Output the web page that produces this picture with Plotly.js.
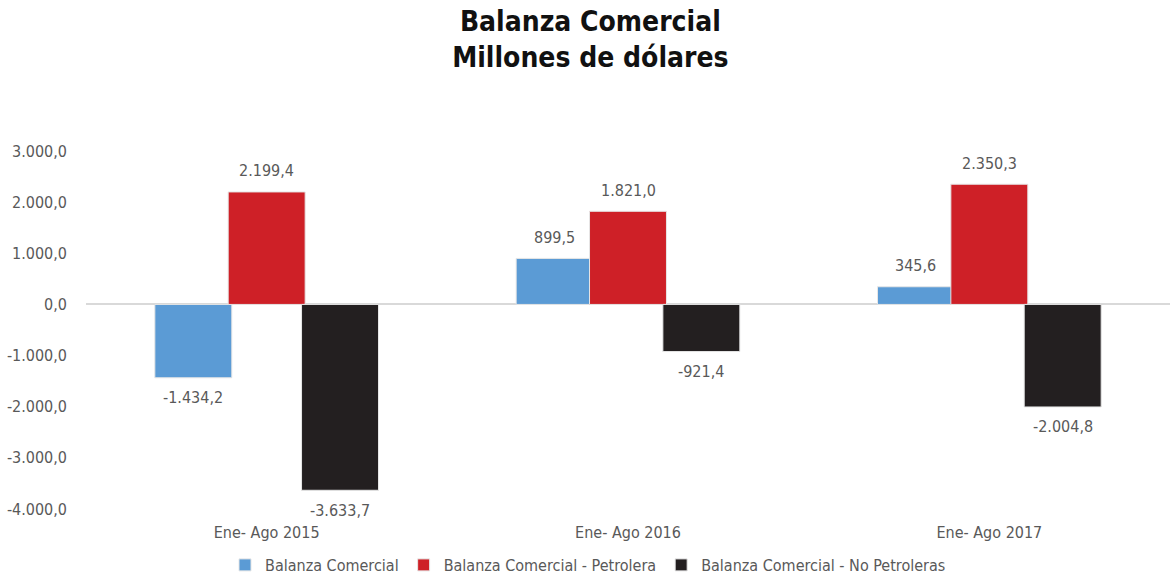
<!DOCTYPE html>
<html><head><meta charset="utf-8">
<script src="https://cdn.plot.ly/plotly-3.0.1.min.js"></script>
<style>body{margin:0;background:#fff}#c{width:1176px;height:582px}</style>
</head><body><div id="c"></div>
<script>
const categories = ["Ene- Ago 2015", "Ene- Ago 2016", "Ene- Ago 2017"];
const seriesNames = ["Balanza Comercial", "Balanza Comercial - Petrolera", "Balanza Comercial - No Petroleras"];
const balanza = [-1434.2, 899.5, 345.6];
const petrolera = [2199.4, 1821.0, 2350.3];
const noPetrolera = [-3633.7, -921.4, -2004.8];
const tickVals = [-4000, -3000, -2000, -1000, 0, 1000, 2000, 3000];
const tickText = ["-4.000,0", "-3.000,0", "-2.000,0", "-1.000,0", "0,0", "1.000,0", "2.000,0", "3.000,0"];

const FONT = "'Liberation Sans Narrow', 'DejaVu Sans Condensed', Arial, sans-serif";
const colors = ["#5B9BD5", "#CE2027", "#231F20"];
const BAR_W = 0.213;   // bar width in category units
const STEP = 0.203;    // distance between neighbouring bars (slight overlap, as in the original)
function fmt(v){
  const neg = v < 0; const a = Math.abs(v).toFixed(1);
  let [i, d] = a.split(".");
  i = i.replace(/\B(?=(\d{3})+(?!\d))/g, ".");
  return (neg ? "-" : "") + i + "," + d;
}
const allSeries = [balanza, petrolera, noPetrolera];
const n = allSeries.length;
const centerOf = k => (k - (n - 1) / 2) * STEP;
const data = allSeries.map((vals, k) => ({
  type: "bar", x: categories, y: vals, name: seriesNames[k],
  width: BAR_W, offset: centerOf(k) - BAR_W / 2,
  marker: {color: colors[k], line: {color: "#e6e6e6", width: 1}},
  hoverinfo: "none"
}));
const annotations = [];
allSeries.forEach((vals, k) => {
  vals.forEach((v, i) => {
    annotations.push({
      xref: "x", yref: "y", x: i + centerOf(k), y: v,
      text: fmt(v), showarrow: false, xanchor: "center", yanchor: "middle",
      yshift: v >= 0 ? 21 : -20,
      font: {family: FONT, size: 16, color: "#595959"}
    });
  });
});
const layout = {
  width: 1176, height: 582,
  margin: {l: 86, r: 6, t: 151, b: 73},
  paper_bgcolor: "#fff", plot_bgcolor: "#fff",
  font: {family: FONT, size: 16, color: "#595959"},
  barmode: "group",
  title: {text: "<b>Balanza Comercial<br>Millones de dólares</b>", x: 0.502, xanchor: "center",
          yref: "container", y: 0.947, yanchor: "middle",
          font: {family: FONT, size: 28, color: "#111"}},
  showlegend: true,
  legend: {orientation: "h", x: 0.5, xanchor: "center", xref: "container", yref: "container", y: -0.02, yanchor: "bottom",
           font: {family: FONT, size: 16, color: "#595959"}, traceorder: "normal", itemwidth: 30},
  annotations: annotations,
  xaxis: {showgrid: false, zeroline: false, showline: false, ticks: "", automargin: false,
          tickfont: {family: FONT, size: 16, color: "#595959"}, ticklabelstandoff: 12},
  yaxis: {range: [-4000, 3000], tickvals: tickVals, ticktext: tickText, showgrid: false, automargin: false,
          zeroline: true, zerolinecolor: "#d9d9d9", zerolinewidth: 2, showline: false, ticks: "",
          tickfont: {family: FONT, size: 16, color: "#595959"}, ticklabelstandoff: 18}
};
Plotly.newPlot("c", data, layout, {displayModeBar: false, staticPlot: true});
</script></body></html>
